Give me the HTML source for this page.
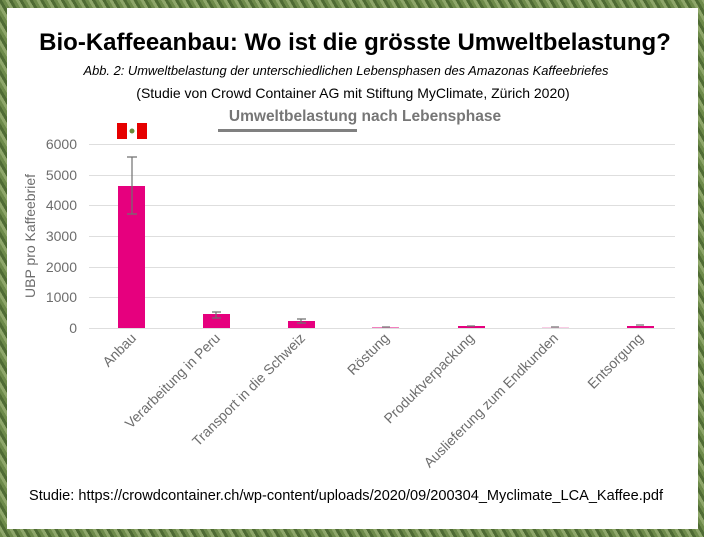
<!DOCTYPE html>
<html><head><meta charset="utf-8"><style>
html,body{margin:0;padding:0}
body{width:704px;height:537px;overflow:hidden;position:relative;font-family:"Liberation Sans",sans-serif;
background:
radial-gradient(circle at 20% 30%,#9fb07a 0,transparent 40px),
radial-gradient(circle at 80% 70%,#4e6a33 0,transparent 60px),
repeating-linear-gradient(60deg,#6d8a4a 0 3px,#8ea66a 3px 6px,#4f6b34 6px 9px),
#6f8a50;}
#panel{position:absolute;left:7px;top:8px;width:691px;height:521px;background:#fff}
</style></head><body>
<div id="panel"></div>
<svg width="704" height="537" style="position:absolute;left:0;top:0" font-family="Liberation Sans, sans-serif">
<text x="355" y="50" font-size="24" font-weight="bold" text-anchor="middle" fill="#000">Bio-Kaffeeanbau: Wo ist die grösste Umweltbelastung?</text>
<text x="346" y="75" font-size="12.6" font-style="italic" text-anchor="middle" fill="#000" textLength="525" lengthAdjust="spacingAndGlyphs">Abb. 2: Umweltbelastung der unterschiedlichen Lebensphasen des Amazonas Kaffeebriefes</text>
<text x="353" y="98" font-size="14" text-anchor="middle" fill="#000">(Studie von Crowd Container AG mit Stiftung MyClimate, Zürich 2020)</text>
<text x="365" y="121" font-size="15.5" font-weight="bold" text-anchor="middle" fill="#767676">Umweltbelastung nach Lebensphase</text>
<rect x="218" y="129" width="139" height="3" fill="#808080"/>
<rect x="117" y="123" width="30" height="16" fill="#fff"/>
<rect x="117" y="123" width="10" height="16" fill="#e60000"/>
<rect x="137" y="123" width="10" height="16" fill="#e60000"/>
<circle cx="132" cy="131" r="2.5" fill="#6a8a3a"/>
<g stroke="#dedede" stroke-width="1">
<line x1="89" x2="675" y1="144.5" y2="144.5"/>
<line x1="89" x2="675" y1="175.5" y2="175.5"/>
<line x1="89" x2="675" y1="205.5" y2="205.5"/>
<line x1="89" x2="675" y1="236.5" y2="236.5"/>
<line x1="89" x2="675" y1="267.5" y2="267.5"/>
<line x1="89" x2="675" y1="297.5" y2="297.5"/>
<line x1="89" x2="675" y1="328.5" y2="328.5"/>
</g>
<g font-size="14" fill="#6d6d6d" text-anchor="end">
<text x="77" y="149">6000</text><text x="77" y="180">5000</text><text x="77" y="210">4000</text>
<text x="77" y="241">3000</text><text x="77" y="272">2000</text><text x="77" y="302">1000</text><text x="77" y="333">0</text>
</g>
<text transform="translate(35,236) rotate(-90)" font-size="14" fill="#6d6d6d" text-anchor="middle">UBP pro Kaffeebrief</text>
<g fill="#e6007e">
<rect x="118" y="186" width="27" height="142"/>
<rect x="203" y="314" width="27" height="14"/>
<rect x="288" y="321" width="27" height="7"/>
<rect x="372" y="327" width="27" height="1" opacity="0.5"/>
<rect x="458" y="326" width="27" height="2"/>
<rect x="542" y="327" width="27" height="1" opacity="0.2"/>
<rect x="627" y="326" width="27" height="2"/>
</g>
<g stroke="#707070" stroke-width="1.2" fill="none">
<path d="M132 157V214M127 157H137M127 214H137"/>
<path d="M216 312V318M212 312H221M212 318H221"/>
<path d="M301 319V323M297 319H306M297 323H306"/>
<path d="M382 327H390"/><path d="M467 326H475"/><path d="M551 327H559"/><path d="M636 325H644"/>
</g>
<g font-size="14" fill="#6d6d6d" text-anchor="end">
<text transform="translate(137,339) rotate(-45)">Anbau</text>
<text transform="translate(221,339) rotate(-45)">Verarbeitung in Peru</text>
<text transform="translate(306,339) rotate(-45)">Transport in die Schweiz</text>
<text transform="translate(390,339) rotate(-45)">Röstung</text>
<text transform="translate(475,339) rotate(-45)">Produktverpackung</text>
<text transform="translate(559,339) rotate(-45)">Auslieferung zum Endkunden</text>
<text transform="translate(644,339) rotate(-45)">Entsorgung</text>
</g>
<text x="346" y="500" font-size="14.5" text-anchor="middle" fill="#000" textLength="634" lengthAdjust="spacingAndGlyphs">Studie: https://crowdcontainer.ch/wp-content/uploads/2020/09/200304_Myclimate_LCA_Kaffee.pdf</text>
</svg>
</body></html>
